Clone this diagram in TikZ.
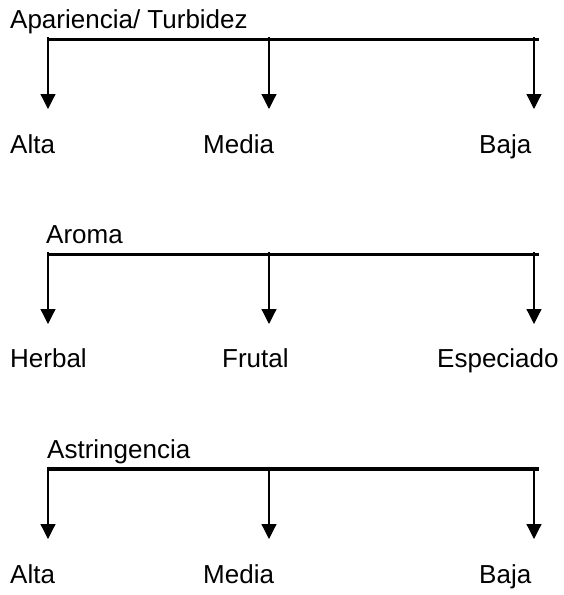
\documentclass[tikz,border=0pt]{standalone}
\usepackage{fontspec}
\setmainfont{Liberation Sans}
\usetikzlibrary{arrows.meta,positioning}

\begin{document}
\begin{tikzpicture}[
    x=1pt, y=-1pt,
    every node/.style={inner sep=0pt, anchor=base west, font=\fontsize{26}{31}\selectfont},
    bar/.style={line width=3.6pt},
    branch/.style={line width=1.2pt, -{Triangle[width=15pt,length=15pt]}}
]
    \useasboundingbox (0,0) rectangle (564,595);

    % Apariencia / Turbidez
    \node (apar) at (10,28) {Apariencia/ Turbidez};
    \coordinate (aparL) at (48.5,39.5);
    \coordinate (aparR) at (539,39.5);
    \coordinate (aparA0) at (48,37);
    \coordinate (aparA1) at (48,109);
    \coordinate (aparM0) at (269,37);
    \coordinate (aparM1) at (269,109);
    \coordinate (aparB0) at (534,37);
    \coordinate (aparB1) at (534,109);
    \node (aparAlta) at (10,153) {Alta};
    \node (aparMedia) at (203,153) {Media};
    \node (aparBaja) at (479,153) {Baja};

    \draw[bar] (aparL) -- (aparR);
    \draw[branch] (aparA0) -- (aparA1);
    \draw[branch] (aparM0) -- (aparM1);
    \draw[branch] (aparB0) -- (aparB1);

    % Aroma
    \node (aroma) at (46,243) {Aroma};
    \coordinate (aromaL) at (48.5,254.5);
    \coordinate (aromaR) at (539,254.5);
    \coordinate (aromaH0) at (48,252);
    \coordinate (aromaH1) at (48,324);
    \coordinate (aromaF0) at (269,252);
    \coordinate (aromaF1) at (269,324);
    \coordinate (aromaE0) at (534,252);
    \coordinate (aromaE1) at (534,324);
    \node (aromaHerbal) at (10,367) {Herbal};
    \node (aromaFrutal) at (222,367) {Frutal};
    \node (aromaEspec) at (437,367) {Especiado};

    \draw[bar] (aromaL) -- (aromaR);
    \draw[branch] (aromaH0) -- (aromaH1);
    \draw[branch] (aromaF0) -- (aromaF1);
    \draw[branch] (aromaE0) -- (aromaE1);

    % Astringencia
    \node (astr) at (47,458) {Astringencia};
    \coordinate (astrL) at (48.5,469);
    \coordinate (astrR) at (539,469);
    \coordinate (astrA0) at (48,466.5);
    \coordinate (astrA1) at (48,539);
    \coordinate (astrM0) at (269,466.5);
    \coordinate (astrM1) at (269,539);
    \coordinate (astrB0) at (534,466.5);
    \coordinate (astrB1) at (534,539);
    \node (astrAlta) at (10,583) {Alta};
    \node (astrMedia) at (203,583) {Media};
    \node (astrBaja) at (479,583) {Baja};

    \draw[bar] (astrL) -- (astrR);
    \draw[branch] (astrA0) -- (astrA1);
    \draw[branch] (astrM0) -- (astrM1);
    \draw[branch] (astrB0) -- (astrB1);

\end{tikzpicture}
\end{document}
